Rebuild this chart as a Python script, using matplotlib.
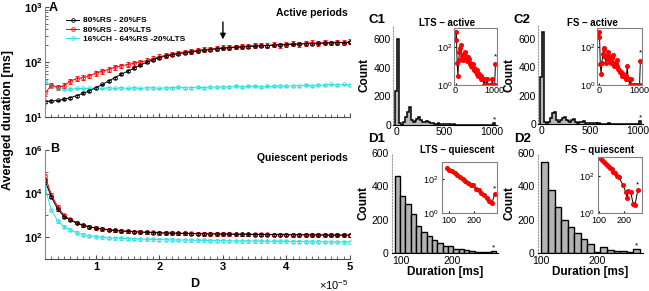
import numpy as np
import matplotlib.pyplot as plt
from matplotlib.ticker import MultipleLocator, FixedLocator, FuncFormatter, NullFormatter

plt.rcParams['font.family'] = ['Liberation Sans', 'DejaVu Sans']
plt.rcParams['mathtext.fontset'] = 'custom'
plt.rcParams['mathtext.rm'] = 'Liberation Sans'
plt.rcParams['mathtext.bf'] = 'Liberation Sans:bold'
plt.rcParams['mathtext.it'] = 'Liberation Sans:italic'

# ---- panel A / B data (D in units of 1e-5) ----
D = np.round(np.arange(0.2, 5.01, 0.1), 1)

A_fs = [19, 19.5, 20, 21, 22.5, 24.5, 27, 30, 34, 39,
        45, 52, 60, 68, 77, 88, 99, 110, 120, 128,
        135, 141, 147, 152, 157, 163, 168, 173, 177, 181,
        184, 187, 190, 193, 196, 199, 202, 205, 208, 210,
        212, 214, 216, 218, 220, 222, 224, 226, 228]
A_lts = [27, 38, 35, 37, 45, 50, 52, 56, 63, 68,
         73, 80, 85, 90, 95, 100, 106, 115, 125, 132,
         140, 147, 153, 158, 163, 168, 173, 177, 182, 186,
         189, 192, 196, 200, 204, 198, 207, 203, 212, 215,
         210, 220, 224, 216, 228, 222, 230, 226, 234]
A_ch = [45, 36, 33, 32, 32, 33, 33, 33, 34, 33,
        34, 33, 34, 33, 34, 33, 34, 34, 33, 34,
        34, 35, 34, 34, 35, 34, 35, 35, 35, 35,
        36, 35, 36, 36, 35, 36, 36, 37, 36, 37,
        37, 38, 37, 38, 38, 39, 38, 39, 38]

B_fs = [40000, 7000, 1900, 880, 600, 440, 345, 295, 260, 235,
        217, 203, 192, 184, 177, 171, 166, 162, 158, 155,
        152, 150, 148, 146, 144, 142, 141, 140, 138, 137,
        136, 135, 134, 133, 132, 131, 130, 130, 129, 128,
        128, 127, 126, 126, 125, 124, 124, 123, 122]
B_lts = [65000, 9000, 2500, 1000, 650, 470, 360, 305, 268, 242,
         223, 208, 197, 188, 181, 175, 170, 165, 161, 158,
         155, 153, 151, 149, 147, 145, 144, 143, 141, 140,
         139, 138, 137, 136, 135, 134, 133, 133, 132, 131,
         131, 130, 129, 129, 128, 127, 127, 126, 125]
B_ch = [18000, 1800, 550, 300, 220, 160, 130, 115, 105, 98,
        93, 90, 88, 86, 84, 82, 80, 79, 78, 77,
        76, 75, 74, 73, 72, 71, 70, 70, 69, 68,
        68, 67, 67, 66, 66, 65, 65, 64, 64, 63,
        63, 62, 62, 62, 61, 61, 61, 60, 60]

labels = ['80%RS - 20%FS', '80%RS - 20%LTS', '16%CH - 64%RS -20%LTS']
rel_err_A = [0.04, 0.10, 0.04]
rel_err_B = [0.12, 0.18, 0.15]

# ---- histograms, active periods (20 ms bins) ----
C_bins = np.arange(0, 1021, 20)
C1_counts = [240, 600, 15, 3, 20, 55, 90, 125, 35, 20,
             30, 45, 55, 35, 22, 18, 30, 22, 14, 12,
             10, 9, 12, 8, 6, 7, 5, 6, 4, 3,
             4, 3, 2, 3, 2, 2, 1, 2, 1, 1,
             2, 1, 1, 1, 1, 1, 1, 2, 1, 1,
             1, 12]
C2_counts = [335, 650, 12, 4, 15, 45, 75, 85, 30, 15,
             25, 40, 52, 30, 18, 15, 25, 38, 15, 10,
             12, 15, 20, 10, 7, 6, 5, 5, 4, 3,
             4, 3, 3, 2, 3, 10, 2, 2, 1, 2,
             1, 1, 1, 1, 1, 1, 1, 1, 1, 1,
             1, 18]

# ---- histograms, quiescent periods ----
D1_start, D1_width = 87, 10.5
D1_counts = [462, 340, 292, 232, 162, 128, 100, 78, 62, 42,
             45, 26, 22, 16, 12, 8, 5, 4, 14]
D2_start, D2_width = 100, 11.7
D2_counts = [547, 381, 274, 199, 154, 118, 85, 55, 8, 36,
             20, 12, 10, 6, 24]
D2_in_x = [106, 113, 121, 128, 136, 143, 151, 158, 166, 173, 181,
           196, 209, 213, 218, 228, 238, 245, 256]
D2_in_y = [890, 700, 560, 430, 350, 260, 215, 160, 135, 98, 80,
           33, 12.6, 6.3, 15, 12.6, 3, 2.6, 17]

W, H = 649, 291


def box(l, t, r, b):
    return [l / W, 1 - b / H, (r - l) / W, (b - t) / H]


fig = plt.figure(figsize=(W / 100, H / 100), dpi=100)

axA = fig.add_axes(box(45, 7, 350, 117))
axB = fig.add_axes(box(45, 150, 350, 259))

colors = ['black', 'red', '#2ee3e3']
bold_pow = FuncFormatter(lambda v, p: r'$\mathbf{10^{%d}}$' % round(np.log10(v)))
reg_pow = FuncFormatter(lambda v, p: r'$10^{%d}$' % round(np.log10(v)))

handles = []
for ax, sets, errs in ((axA, (A_fs, A_lts, A_ch), rel_err_A),
                       (axB, (B_fs, B_lts, B_ch), rel_err_B)):
    for k in (2, 1, 0):
        vals = np.array(sets[k])
        eb = ax.errorbar(D, vals, yerr=vals * errs[k], color=colors[k], marker='o',
                         ms=2.6, mfc='none', mew=0.6, lw=0.7, elinewidth=0.6,
                         capsize=1.5, capthick=0.6)
        if ax is axA:
            handles.append((k, eb[0]))
    ax.set_yscale('log')
    ax.set_xlim(0.2, 5.0)
    for s in ('top', 'right'):
        ax.spines[s].set_visible(False)
    ax.spines['left'].set_color('0.55')
    ax.spines['bottom'].set_color('0.3')
    ax.set_xticks([1, 2, 3, 4, 5])
    ax.xaxis.set_minor_locator(MultipleLocator(0.1))
    ax.tick_params(which='both', direction='in', labelsize=8, pad=2, color='0.3')
    ax.tick_params(which='major', length=3)
    ax.tick_params(which='minor', length=2)
    ax.yaxis.set_major_formatter(bold_pow)
    ax.yaxis.set_minor_formatter(NullFormatter())

axA.set_ylim(10, 1000)
axA.yaxis.set_major_locator(FixedLocator([10, 100, 1000]))
axA.set_xticklabels([])
axB.set_ylim(10, 1e6)
axB.yaxis.set_major_locator(FixedLocator([100, 1e4, 1e6]))
axB.yaxis.set_minor_locator(FixedLocator([10, 1000, 1e5]))
axB.set_xticklabels(['1', '2', '3', '4', '5'], fontweight='bold')

handles = [h for k, h in sorted(handles)]
axA.legend(handles, labels, loc='upper left', bbox_to_anchor=(0.055, 0.95),
           frameon=False, prop={'size': 6, 'weight': 'bold'}, handlelength=1.6,
           borderpad=0, labelspacing=0.15, handletextpad=0.5)
axA.annotate('', xy=(3.0, 230), xytext=(3.0, 600),
             arrowprops=dict(arrowstyle='-|>', color='k', lw=1, mutation_scale=8))

fig.text(49 / W, 1 - 8 / H, 'A', fontsize=9, fontweight='bold', va='center')
fig.text(50 / W, 1 - 149 / H, 'B', fontsize=9, fontweight='bold', va='center')
fig.text(348 / W, 1 - 13 / H, 'Active periods', fontsize=7.5, fontweight='bold',
         ha='right', va='center')
fig.text(348 / W, 1 - 158 / H, 'Quiescent periods', fontsize=7.5, fontweight='bold',
         ha='right', va='center')
fig.text(195 / W, 1 - 284 / H, 'D', fontsize=9, fontweight='bold', ha='center', va='center')
fig.text(348 / W, 1 - 285 / H, r'$\times10^{-5}$', fontsize=8, ha='right', va='center')
fig.text(8 / W, 1 - 120 / H, 'Averaged duration [ms]', fontsize=9, fontweight='bold',
         rotation=90, ha='center', va='center')


def style_hist(ax):
    for s in ('top', 'right'):
        ax.spines[s].set_visible(False)
    ax.spines['left'].set_color('0.6')
    ax.spines['left'].set_linestyle(':')
    ax.tick_params(axis='both', labelsize=7.5, pad=1.5, length=0)


def style_inset(ax, xt):
    for s in ax.spines.values():
        s.set_color('0.5')
        s.set_linewidth(0.8)
    ax.set_yscale('log')
    ax.yaxis.set_major_locator(FixedLocator([1, 100]))
    ax.yaxis.set_major_formatter(reg_pow)
    ax.yaxis.set_minor_formatter(NullFormatter())
    ax.yaxis.set_minor_locator(FixedLocator([]))
    ax.set_xticks(xt)
    ax.tick_params(labelsize=6.5, pad=1, length=1.5, direction='in')


# C panels
for key, counts, main_box, in_box, title, tx in (
        ('C1', C1_counts, (393, 25, 497, 125), (454, 28, 497, 85), 'LTS \u2013 active', 447),
        ('C2', C2_counts, (538, 25, 643, 124), (597, 28, 642, 85), 'FS \u2013 active', 592)):
    ax = fig.add_axes(box(*main_box))
    edges = np.append(C_bins - 10, C_bins[-1] + 10)
    ax.stairs(counts, edges, fill=True, color='0.72')
    ax.stairs(counts, edges, color='k', lw=1.1)
    ax.set_xlim(-35, 1050)
    ax.set_ylim(0, 700)
    ax.set_xticks([0, 500, 1000])
    ax.set_yticks([0, 200, 400, 600])
    style_hist(ax)
    ax.text(C_bins[-1], counts[-1] + 12, '*', ha='center', fontsize=6)
    ax.set_ylabel('Count', fontsize=8.5, fontweight='bold', labelpad=2)
    fig.text(tx / W, 1 - 23 / H, title, fontsize=7, fontweight='bold', ha='center', va='center')
    fig.text((main_box[0] - 24) / W, 1 - 20 / H, key, fontsize=9.5, fontweight='bold', va='center')

    ins = fig.add_axes(box(*in_box))
    ins.plot(C_bins, counts, color='k', lw=0.7)
    ins.plot(C_bins, counts, 'o', color='red', ms=2.6, mec='red')
    ins.set_xlim(-40, 1060)
    ins.set_ylim(1, 1000)
    style_inset(ins, [0, 1000])
    ins.text(C_bins[-1], counts[-1] * 2.2, '*', ha='center', fontsize=6)

# D panels
for key, start, width, counts, in_x, in_y, main_box, in_box, xl, ixl, title, tx in (
        ('D1', D1_start, D1_width, D1_counts, None, None, (392, 153, 498, 253),
         (442, 162, 497, 213), (82, 290), (74, 290), 'LTS \u2013 quiescent', 457),
        ('D2', D2_start, D2_width, D2_counts, D2_in_x, D2_in_y, (538, 153, 643, 253),
         (598, 157, 642, 213), (94, 281), (97, 273), 'FS \u2013 quiescent', 600)):
    centers = start + width * (np.arange(len(counts)) + 0.5)
    ax = fig.add_axes(box(*main_box))
    ax.bar(centers, counts, width=width, color='0.7', edgecolor='k', linewidth=1)
    ax.set_xlim(*xl)
    ax.set_ylim(0, 600)
    ax.set_xticks([100, 200])
    ax.set_yticks([0, 200, 400, 600])
    style_hist(ax)
    ax.tick_params(axis='x', pad=2.5)
    ax.tick_params(axis='y', pad=2.5)
    ax.text(centers[-1], counts[-1] + 8, '*', ha='center', fontsize=6)
    ax.set_ylabel('Count', fontsize=8.5, fontweight='bold', labelpad=1.5)
    ax.set_xlabel('Duration [ms]', fontsize=8.5, fontweight='bold', labelpad=0)
    fig.text(tx / W, 1 - 150 / H, title, fontsize=7, fontweight='bold', ha='center', va='center')
    fig.text((main_box[0] - 24) / W, 1 - 139 / H, key, fontsize=9.5, fontweight='bold', va='center')

    if in_x is None:
        in_x, in_y = centers, counts
    ins = fig.add_axes(box(*in_box))
    ins.plot(in_x, in_y, color='k', lw=0.7)
    ins.plot(in_x, in_y, 'o', color='red', ms=2.6, mec='red')
    ins.set_xlim(*ixl)
    ins.set_ylim(1, 1000)
    style_inset(ins, [100, 200])
    ins.tick_params(axis='y', pad=2.5)
    ins.tick_params(axis='x', pad=2)
    ins.text(in_x[-1], in_y[-1] * 1.5, '*', ha='center', fontsize=6)

fig.savefig('out.png', dpi=100)
